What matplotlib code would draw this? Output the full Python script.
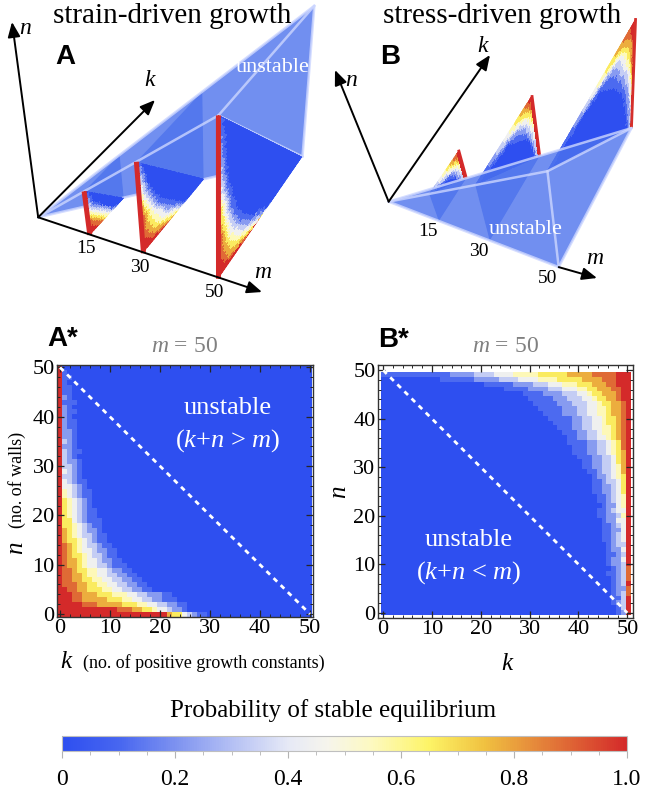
import numpy as np
import matplotlib
matplotlib.use("Agg")
import matplotlib.pyplot as plt
from matplotlib.colors import LinearSegmentedColormap, Normalize
from matplotlib.patches import Polygon
from matplotlib.ticker import MultipleLocator
from matplotlib.cm import ScalarMappable

plt.rcParams["font.family"] = ["Liberation Serif", "DejaVu Serif"]
plt.rcParams["mathtext.fontset"] = "custom"
plt.rcParams["mathtext.rm"] = "Liberation Serif"
plt.rcParams["mathtext.it"] = "Liberation Serif:italic"

W, H = 664, 795

# ---- data: probability levels, one digit per cell (0..9 -> 0..1) ----
# A*: strain-driven, m = 50, rows n = 50 .. 0, cells k = 0, 1, 2, ...
A_STAR_ROWS = [
    "9", "91", "911", "91", "911", "911", "921", "9111", "921", "9211",
    "921", "9211", "9211", "9221", "9221", "9321", "9221", "93211", "9321", "93221",
    "93321", "94321", "93321", "943211", "944321", "9543211", "9543211", "9654321", "9654321", "96543211",
    "96543211", "966432111", "966543211", "976543221", "9765433211", "9766543211", "98765433211",
    "987654432211", "987665433211", "9877654432211", "98776544332111", "988766554432211",
    "9887765544332211", "98877665544332211", "988877665544332211", "9988776665544332211",
    "99988777666555443322211", "999887777766655443322111", "99999888777776665544332211",
    "99999999999988877665443221", "999999999999999999999976643211",
]
# B*: stress-driven, m = 50, rows n = 49 .. 0, cells k = 50, 49, 48, ...
B_STAR_ROWS = [
    "999888887777766666655555444433332222211111111111111",
    "999888777766666555544443333222221111111",
    "999887776665554443332222111111",
    "99887776655444333222211111",
    "9987776654433322221111",
    "998776654433322211111",
    "98776654433322211111",
    "9877655443322211111",
    "987765544332221111",
    "98766544332211111",
    "9876654433221111",
    "987655443322111",
    "98765543322111",
    "9876544332211",
    "9865433221111",
    "986543322111",
    "976543322111",
    "97643322111",
    "9764332211",
    "9754332211",
    "975433211", "96543221", "96433211", "96432211", "96432211",
    "9543211", "9543211", "954221", "9443211", "9532211",
    "944221", "943211", "942211", "943211", "943211",
    "93321", "94221", "93211", "94221", "93221",
    "8321", "83211", "8321", "9321", "8221",
    "8321", "9311", "9321", "931", "921",
]
# 3D slices (strain-driven), rows n = m .. 0, cells k = 0, 1, ...
A15_ROWS = [
    "9", "91", "91", "921", "921", "932", "9321", "94321", "954321", "965432",
    "9765432", "98765432", "988765432", "9988765432", "99988765431", "9999887654321",
]
A30_ROWS = [
    "9", "91", "92", "921", "921", "932", "9321", "9321", "9431", "9432",
    "94321", "95321", "954321", "964321", "9654321", "9754321", "97654321",
    "976543211", "987654321", "9876543211", "98765543211", "987665443211",
    "9877655443211", "98776655443211", "988776554432211", "9887766554432211",
    "99887766554433211", "999887776655443221", "9999888777665544321",
    "99999998887766554321", "9999999999988776654321",
]
# 3D slices (stress-driven), rows n = m .. 0, cells k = m, m-1, ...
B15_ROWS = [
    "9887766554433221", "98776554433221", "976654433211", "9765443211",
    "96543211", "9543211", "954321", "94321", "9432",
    "9432", "9321", "9321", "932", "932", "93", "9",
]
B30_ROWS = [
    "9988777666555444333322221111111", "98877666555444333222211111",
    "9877665544433322221111", "987665544332221111", "97665443322211",
    "9765443322111", "966544322111", "96543322111", "9654322111", "965432211",
    "95433211", "9543211", "954321", "944321", "94321", "94321", "9432",
    "9432", "9431", "9321", "9321", "932", "932", "932", "931", "921",
    "931", "921", "92", "93", "9",
]

SLICE_M = [15, 30, 50]
TICKS_M = ["15", "30", "50"]

CMAP_POS = [0.0, 0.1, 0.2, 0.3, 0.4, 0.47, 0.55, 0.65, 0.75, 0.85, 1.0]
CMAP_COL = ["#2e4ff0", "#4766f0", "#7d92f0", "#b4c0f4", "#e6e9f6", "#f6f5ec",
            "#fdf9bf", "#fdf466", "#f0c040", "#e4823a", "#d42a2a"]
CMAP = LinearSegmentedColormap.from_list("temp", list(zip(CMAP_POS, CMAP_COL)))
NORM = Normalize(0, 1)

BODY = (0.30, 0.45, 0.93)
EDGE = (0.80, 0.84, 1.0)

# axis arrow tips of the 3D sketches (pixel positions)
TIPS_A = {"m": (262, 292), "k": (155, 100), "n": (12, 22)}
TIPS_B = {"m": (597, 278), "k": (490, 55), "n": (335, 70)}


def grid_from_rows(rows, width, reverse=False):
    out = []
    for r in rows:
        vals = [int(c) / 9 for c in r][:width]
        vals = vals + [0.0] * (width - len(vals))
        if reverse:
            vals = vals[::-1]
        out.append(vals)
    return np.array(out[::-1])


def fit_camera(world, pix):
    world = np.asarray(world, float)
    pix = np.asarray(pix, float)
    wm, ws = world.mean(0), world.std()
    pm, ps = pix.mean(0), pix.std()
    Xn = (world - wm) / ws
    un = (pix - pm) / ps
    rows = []
    for X, u in zip(Xn, un):
        p = np.append(X, 1)
        rows.append(np.concatenate([p, np.zeros(4), -u[0] * p]))
        rows.append(np.concatenate([np.zeros(4), p, -u[1] * p]))
    _, _, vt = np.linalg.svd(np.array(rows))
    Pn = vt[-1].reshape(3, 4)
    T = np.eye(4)
    T[:3, :3] /= ws
    T[:3, 3] = -wm / ws
    Ti = np.array([[ps, 0, pm[0]], [0, ps, pm[1]], [0, 0, 1]])
    return Ti @ Pn @ T


def project(P, pts):
    pts = np.asarray(pts, float)
    h = pts @ P[:, :3].T + P[:, 3]
    return h[..., :2] / h[..., 2:3]


fig = plt.figure(figsize=(W / 100, H / 100), dpi=100)
ov = fig.add_axes([0, 0, 1, 1])
ov.set_xlim(0, W)
ov.set_ylim(H, 0)
ov.axis("off")


def cap(m, side):
    if side == "A":
        return [(m, 0, m), (m, m, 0), (m, m, m)]
    return [(m, 0, 0), (m, m, 0), (m, 0, m)]


def draw_body(P, side, z):
    cuts = [0] + SLICE_M
    for m0, m1 in zip(cuts[:-1], cuts[1:]):
        a, b = cap(m0, side), cap(m1, side)
        faces = [a, b] + [[a[i], a[(i + 1) % 3], b[(i + 1) % 3], b[i]] for i in range(3)]
        for f in faces:
            ov.add_patch(Polygon(project(P, f), closed=True, facecolor=BODY,
                                 alpha=0.55, edgecolor="none", zorder=z))


def draw_edges(P, segs, z):
    for s, e in segs:
        xy = project(P, [s, e])
        ov.plot(xy[:, 0], xy[:, 1], color=EDGE, lw=1.8, alpha=0.8, zorder=z,
                solid_capstyle="round")


def draw_slice(P, m, grid, side, z, edge_lw):
    nr, nc = grid.shape
    K, N = np.meshgrid(np.linspace(0, m, nc + 1), np.linspace(0, m, nr + 1))
    pts = np.stack([np.full(K.shape, float(m)), K, N], -1)
    XY = project(P, pts)
    mesh = ov.pcolormesh(XY[..., 0], XY[..., 1], grid, cmap=CMAP, norm=NORM,
                         shading="flat", edgecolors="face", linewidth=0.3, zorder=z)
    if side == "A":
        tri = [(m, 0, 0), (m, 0, m), (m, m, 0)]
        edge = [(m, 0, 0), (m, 0, m)]
        edge_val = grid[:, 0].mean()
    else:
        tri = [(m, 0, m), (m, m, 0), (m, m, m)]
        edge = [(m, m, 0), (m, m, m)]
        edge_val = grid[:, -1].mean()
    clip = Polygon(project(P, tri), closed=True, transform=ov.transData)
    mesh.set_clip_path(clip)
    xy = project(P, edge)
    ov.plot(xy[:, 0], xy[:, 1], color=CMAP(NORM(edge_val)), lw=edge_lw, zorder=z + 0.1,
            solid_capstyle="butt")


def arrow_px(start, tip, z):
    ov.annotate("", xy=tip, xytext=start, zorder=z,
                arrowprops=dict(arrowstyle="-|>,head_length=0.6,head_width=0.25",
                                mutation_scale=15, color="black", lw=1.4,
                                shrinkA=0, shrinkB=0))


O = (0, 0, 0)

# ---- panel A (strain-driven) ----
cam_a = fit_camera(
    [(0, 0, 0), (50, 0, 0), (50, 0, 50), (50, 50, 0), (50, 50, 50), (15, 0, 0),
     (15, 0, 15), (30, 0, 0), (30, 0, 30), (15, 15, 0), (30, 30, 0)],
    [(39, 217), (218, 278), (220, 116), (303, 157), (313, 5), (88, 235),
     (83, 192), (143, 253), (137, 162), (125, 197), (204, 180)])
draw_body(cam_a, "A", 1)
draw_edges(cam_a, [(O, (50, 0, 50)), (O, (50, 50, 50)), (O, (50, 50, 0)),
                   ((50, 0, 50), (50, 50, 50)), ((50, 0, 50), (50, 50, 0)),
                   ((50, 50, 0), (50, 50, 50))], 1.5)
a_grids = [grid_from_rows(A15_ROWS, 16), grid_from_rows(A30_ROWS, 31),
           grid_from_rows(A_STAR_ROWS, 51)]
for m, g in zip(SLICE_M, a_grids):
    draw_slice(cam_a, m, g, "A", 2, 3.6)
oa = project(cam_a, [O])[0]
for tip in TIPS_A.values():
    arrow_px(oa, tip, 3)
for m, lab in zip(SLICE_M, TICKS_M):
    x, y = project(cam_a, [(m, 0, 0)])[0]
    ov.text(x - 4, y + 14, lab, fontsize=14, ha="center", va="center", zorder=4)
ov.text(263, 272, "$m$", fontsize=17, ha="center", va="center")
ov.text(150, 80, "$k$", fontsize=17, ha="center", va="center")
ov.text(25, 28, "$n$", fontsize=17, ha="center", va="center")
ov.text(273, 68, "unstable", fontsize=16, color="white", ha="center", va="center", zorder=4)

# ---- panel B (stress-driven) ----
cam_b = fit_camera(
    [(0, 0, 0), (50, 0, 0), (50, 0, 50), (50, 50, 0), (50, 50, 50), (15, 15, 15),
     (15, 15, 0), (15, 0, 15), (30, 30, 30), (30, 30, 0), (30, 0, 30)],
    [(390, 202), (558, 267), (548, 171), (632, 129), (635, 18), (458, 150),
     (466, 177), (427, 195), (532, 95), (540, 155), (477, 185)])
b_grids = [grid_from_rows(B15_ROWS, 16, True), grid_from_rows(B30_ROWS, 31, True),
           grid_from_rows(B_STAR_ROWS, 51, True)]
for m, g in zip(SLICE_M, b_grids):
    draw_slice(cam_b, m, g, "B", 2, 2.0)
draw_body(cam_b, "B", 3)
draw_edges(cam_b, [(O, (50, 0, 0)), (O, (50, 50, 0)), (O, (50, 0, 50)),
                   ((50, 0, 0), (50, 50, 0)), ((50, 0, 0), (50, 0, 50)),
                   ((50, 50, 0), (50, 0, 50))], 3.5)
ob = project(cam_b, [O])[0]
arrow_px(project(cam_b, [(50, 0, 0)])[0], TIPS_B["m"], 4)
arrow_px(ob, TIPS_B["k"], 4)
arrow_px(ob, TIPS_B["n"], 4)
for m, lab in zip(SLICE_M, TICKS_M):
    x, y = project(cam_b, [(m, 0, 0)])[0]
    ov.text(x - 11, y + 11, lab, fontsize=14, ha="center", va="center", zorder=5)
ov.text(595, 258, "$m$", fontsize=17, ha="center", va="center")
ov.text(483, 46, "$k$", fontsize=17, ha="center", va="center")
ov.text(351, 81, "$n$", fontsize=17, ha="center", va="center")
ov.text(526, 230, "unstable", fontsize=16, color="white", ha="center", va="center", zorder=5)

# ---- titles and panel letters ----
ov.text(172, 16, "strain-driven growth", fontsize=21, ha="center", va="center")
ov.text(502, 16, "stress-driven growth", fontsize=21, ha="center", va="center")
for x, y, lab in [(55, 57, "A"), (380, 57, "B"), (47, 339, "A*"), (378, 340, "B*")]:
    ov.text(x, y, lab, fontsize=20, fontweight="bold", family="Liberation Sans",
            ha="left", va="center")
ov.text(184, 346, "$m$ = 50", fontsize=17, color="0.5", ha="center", va="center")
ov.text(505, 346, "$m$ = 50", fontsize=17, color="0.5", ha="center", va="center")


def frac(x0, y0, x1, y1):
    return [x0 / W, 1 - y1 / H, (x1 - x0) / W, (y1 - y0) / H]


def style_heat(ax, lo, hi):
    ax.set_xlim(lo, hi)
    ax.set_ylim(lo, hi)
    for axis in (ax.xaxis, ax.yaxis):
        axis.set_major_locator(MultipleLocator(10))
        axis.set_minor_locator(MultipleLocator(2))
    ax.tick_params(which="both", direction="in", top=True, right=True,
                   labelsize=16, color="0.15", pad=2)
    ax.tick_params(which="major", length=5, width=0.9)
    ax.tick_params(which="minor", length=2.5, width=0.7)
    for s in ax.spines.values():
        s.set_linewidth(1.0)
        s.set_color("0.2")
    ax.plot([0, 50], [50, 0], color="white", lw=2, ls=(0, (1.8, 1.8)))


# ---- A* heatmap ----
axa = fig.add_axes(frac(57.5, 365, 312.5, 616.5))
axa.imshow(grid_from_rows(A_STAR_ROWS, 51), cmap=CMAP, norm=NORM, origin="lower",
           extent=(-0.5, 50.5, -0.5, 50.5), aspect="auto", interpolation="nearest")
style_heat(axa, -0.5, 50.5)
axa.text(33.6, 41.8, "unstable", color="white", fontsize=19, ha="center", va="center")
axa.text(33.6, 35.2, "($k$+$n$ > $m$)", color="white", fontsize=19, ha="center", va="center")

# ---- B* heatmap ----
axb = fig.add_axes(frac(378.3, 365, 632.7, 617.7))
axb.imshow(grid_from_rows(B_STAR_ROWS, 51, True), cmap=CMAP, norm=NORM, origin="lower",
           extent=(-0.5, 50.5, -0.5, 49.5), aspect="auto", interpolation="nearest")
style_heat(axb, -1.0, 51.1)
axb.text(17.5, 15.0, "unstable", color="white", fontsize=19, ha="center", va="center")
axb.text(17.5, 8.3, "($k$+$n$ < $m$)", color="white", fontsize=19, ha="center", va="center")

# axis labels
ov.text(17, 548, "$n$", fontsize=18, rotation=90, ha="center", va="center")
ov.text(17, 480, "(no. of walls)", fontsize=13, rotation=90, ha="center", va="center")
ov.text(67, 662, "$k$", fontsize=18, ha="center", va="center")
ov.text(204, 663, "(no. of positive growth constants)", fontsize=13, ha="center", va="center")
ov.text(340, 492, "$n$", fontsize=18, rotation=90, ha="center", va="center")
ov.text(508, 664, "$k$", fontsize=18, ha="center", va="center")

# ---- colour bar ----
ov.text(333, 711, "Probability of stable equilibrium", fontsize=18, ha="center", va="center")
cax = fig.add_axes(frac(62, 736, 627, 751))
cb = fig.colorbar(ScalarMappable(norm=NORM, cmap=CMAP), cax=cax, orientation="horizontal")
cb.outline.set_edgecolor("0.75")
cb.outline.set_linewidth(0.8)
cb.set_ticks([0, 0.2, 0.4, 0.6, 0.8, 1.0])
cb.set_ticklabels(["0", "0.2", "0.4", "0.6", "0.8", "1.0"])
cax.xaxis.set_minor_locator(MultipleLocator(0.05))
cax.tick_params(which="both", direction="out", color="0.7", labelsize=17, pad=8)
cax.tick_params(which="major", length=5, width=0.8)
cax.tick_params(which="minor", length=3, width=0.6)

fig.savefig("out.png", dpi=100)
